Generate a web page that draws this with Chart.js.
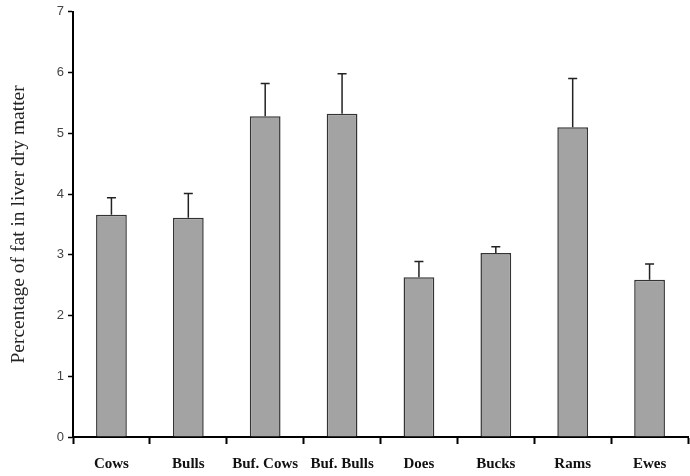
<!DOCTYPE html>
<html>
<head>
<meta charset="utf-8">
<script src="https://cdn.jsdelivr.net/npm/chart.js@4"></script>
<style>
    html, body { margin: 0; padding: 0; background: #fff; }
    #wrap { width: 690px; height: 476px; position: relative; }
</style>
</head>
<body>
<div id="wrap"><canvas id="fatChart"></canvas></div>
<script>
const categories = ["Cows", "Bulls", "Buf. Cows", "Buf. Bulls", "Does", "Bucks", "Rams", "Ewes"];
const fatMeans = [3.66, 3.61, 5.28, 5.32, 2.63, 3.03, 5.10, 2.59];
const fatErrors = [0.28, 0.40, 0.54, 0.66, 0.26, 0.10, 0.80, 0.26];
const yTicks = [0, 1, 2, 3, 4, 5, 6, 7];

const ctx = document.getElementById("fatChart");

// error bars on top of each bar, drawn from the y scale
const errorBars = {
    id: "errorBars",
    afterDatasetsDraw(chart) {
        const c = chart.ctx;
        const yScale = chart.scales.y;
        const meta = chart.getDatasetMeta(0);
        c.save();
        c.strokeStyle = "#222";
        c.lineWidth = 1.5;
        meta.data.forEach((bar, i) => {
            const top = yScale.getPixelForValue(fatMeans[i] + fatErrors[i]);
            const base = yScale.getPixelForValue(fatMeans[i]);
            c.beginPath();
            c.moveTo(bar.x, base);
            c.lineTo(bar.x, top);
            c.moveTo(bar.x - 4.5, top);
            c.lineTo(bar.x + 4.5, top);
            c.stroke();
        });
        c.restore();
    },
};

new Chart(ctx, {
    type: "bar",
    data: {
        labels: categories,
        datasets: [
            {
                label: "fat",
                data: fatMeans,
                backgroundColor: "#a3a3a3",
                borderColor: "#333",
                borderWidth: 1.5,
                barPercentage: 0.4,
                categoryPercentage: 1,
            },
        ],
    },
    options: {
        responsive: true,
        maintainAspectRatio: false,
        animation: false,
        layout: { padding: { top: 4, right: 2, left: 0, bottom: 0 } },
        plugins: {
            legend: { display: false },
            tooltip: { enabled: false },
        },
        scales: {
            x: {
                grid: {
                    offset: true,
                    drawOnChartArea: false,
                    drawTicks: true,
                    tickLength: 7,
                    tickWidth: 2,
                    tickColor: "#000",
                },
                border: { color: "#000", width: 2 },
                ticks: {
                    color: "#111",
                    font: { family: "Liberation Serif", size: 15, weight: "bold" },
                    padding: 11,
                    maxRotation: 0,
                    autoSkip: false,
                },
                afterFit: (s) => { s.height = 39; },
            },
            y: {
                min: 0,
                max: 7,
                afterBuildTicks: (s) => { s.ticks = yTicks.map((v) => ({ value: v })); },
                grid: {
                    drawOnChartArea: false,
                    tickLength: 5,
                    tickWidth: 1.5,
                    tickColor: "#000",
                },
                border: { color: "#000", width: 2 },
                ticks: {
                    color: "#444",
                    font: { family: "Liberation Sans", size: 13 },
                    padding: 4,
                },
                title: {
                    display: true,
                    text: "Percentage of fat in liver dry matter",
                    color: "#222",
                    font: { family: "Liberation Serif", size: 19.5 },
                    padding: { top: 7, bottom: 10 },
                },
                afterFit: (s) => { s.width = 73; },
            },
        },
    },
    plugins: [errorBars],
});
</script>
</body>
</html>
